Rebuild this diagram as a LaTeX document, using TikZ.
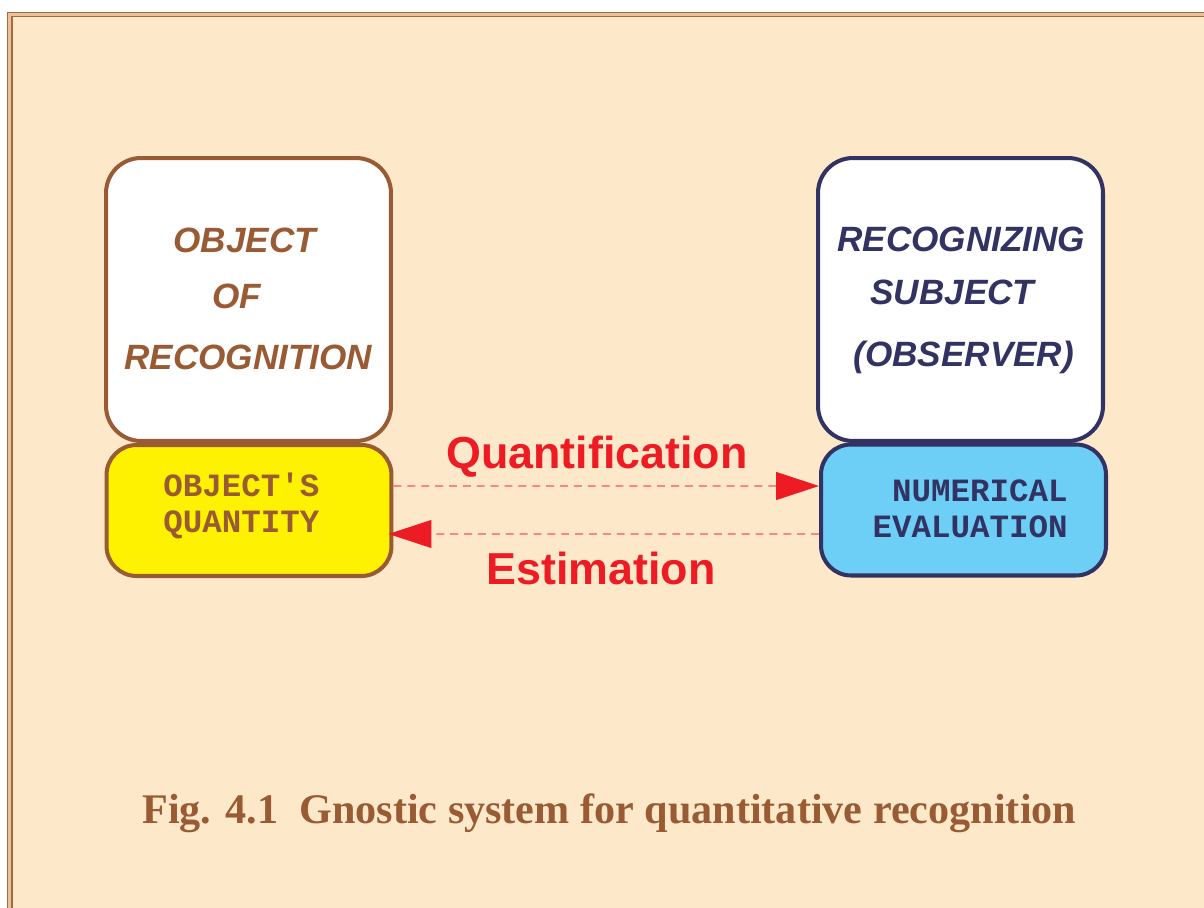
\documentclass[tikz,border=0pt]{standalone}
\usepackage{fontspec}
\setmainfont{Liberation Serif}
\setsansfont{Liberation Sans}
\setmonofont{Liberation Mono}
\usetikzlibrary{arrows.meta}

\definecolor{cream}{HTML}{FDE9C9}
\definecolor{frameline}{HTML}{A06A42}
\definecolor{frameband}{HTML}{E9C29B}
\definecolor{textbrown}{HTML}{995B33}
\definecolor{navy}{HTML}{323263}
\definecolor{boxyellow}{HTML}{FFF200}
\definecolor{boxblue}{HTML}{6DCFF6}
\definecolor{arrowred}{HTML}{ED1C24}

\tikzset{
  bigbox/.style={draw, line width=2.3pt, rounded corners=0.7cm,
    minimum width=5.7cm, minimum height=5.66cm, inner sep=0pt},
  smallbox/.style={draw, line width=2.3pt, rounded corners=0.6cm,
    minimum width=5.7cm, minimum height=2.62cm, inner sep=0pt},
  titletext/.style={inner sep=0pt, font=\sffamily\bfseries\itshape\fontsize{20}{24}\selectfont},
  monotext/.style={inner sep=0pt, font=\ttfamily\bfseries\fontsize{18.5}{22}\selectfont},
  flowlabel/.style={inner sep=0pt, text=arrowred, font=\sffamily\bfseries\fontsize{25.5}{30}\selectfont},
  flowline/.style={draw=arrowred!75, line width=0.6pt, dash pattern=on 4.5pt off 3.4pt,
    -{Triangle[length=0.86cm, width=0.56cm, color=arrowred, fill=arrowred]}}
}

\begin{document}
\begin{tikzpicture}[x=0.02cm,y=-0.02cm]
  \useasboundingbox (0,0) rectangle (1204,908);
  \clip (0,0) rectangle (1204,908);

  % page and frame
  \fill[white] (0,0) rectangle (1204,908);
  \fill[cream] (7,12) rectangle (1260,960);
  \draw[frameband, line width=2.6pt] (9.8,960) -- (9.8,14.6) -- (1260,14.6);
  \draw[frameline, line width=0.8pt] (7.6,960) -- (7.6,12.6) -- (1260,12.6);
  \draw[frameline, line width=0.8pt] (12,960) -- (12,16.6) -- (1260,16.6);

  % boxes
  \node[bigbox, draw=textbrown, fill=white] (objbox) at (248.5,299.5) {};
  \node[smallbox, draw=textbrown, fill=boxyellow] (objqty) at (249,510.5) {};
  \node[bigbox, draw=navy, fill=white] (subjbox) at (960.5,299.5) {};
  \node[smallbox, draw=navy, fill=boxblue] (numeval) at (963.5,510) {};

  % box texts
  \node[titletext, text=textbrown, anchor=base west] (objl1) at (173,253) {OBJECT};
  \node[titletext, text=textbrown, anchor=base west] (objl2) at (212,309) {OF};
  \node[titletext, text=textbrown, anchor=base west] (objl3) at (124,370) {RECOGNITION};
  \node[titletext, text=navy, anchor=base west] (subjl1) at (837,252) {RECOGNIZING};
  \node[titletext, text=navy, anchor=base west] (subjl2) at (870,305) {SUBJECT};
  \node[titletext, text=navy, anchor=base west] (subjl3) at (853,367) {(OBSERVER)};

  \node[monotext, text=textbrown, anchor=base west] (qtyl1) at (163,497) {OBJECT'S};
  \node[monotext, text=textbrown, anchor=base west] (qtyl2) at (163,533) {QUANTITY};
  \node[monotext, text=navy, anchor=base east] (numl1) at (1068,502) {NUMERICAL};
  \node[monotext, text=navy, anchor=base east] (numl2) at (1068,538) {EVALUATION};

  % connectors
  \draw[flowline] ([yshift=0.49cm]objqty.east) -- ([yshift=0.48cm]numeval.west);
  \draw[flowline] ([yshift=-0.48cm]numeval.west) -- ([yshift=-0.47cm,xshift=-0.1cm]objqty.east);
  \node[flowlabel, anchor=base west] (quantlab) at (446,469) {Quantification};
  \node[flowlabel, anchor=base west] (estlab) at (486,585) {Estimation};

  % caption
  \node[inner sep=0pt, anchor=base west, text=textbrown,
    font=\rmfamily\bfseries\fontsize{24}{28}\selectfont] (caption) at (142,823)
    {Fig. 4.1\ \ Gnostic system for quantitative recognition};
\end{tikzpicture}
\end{document}
